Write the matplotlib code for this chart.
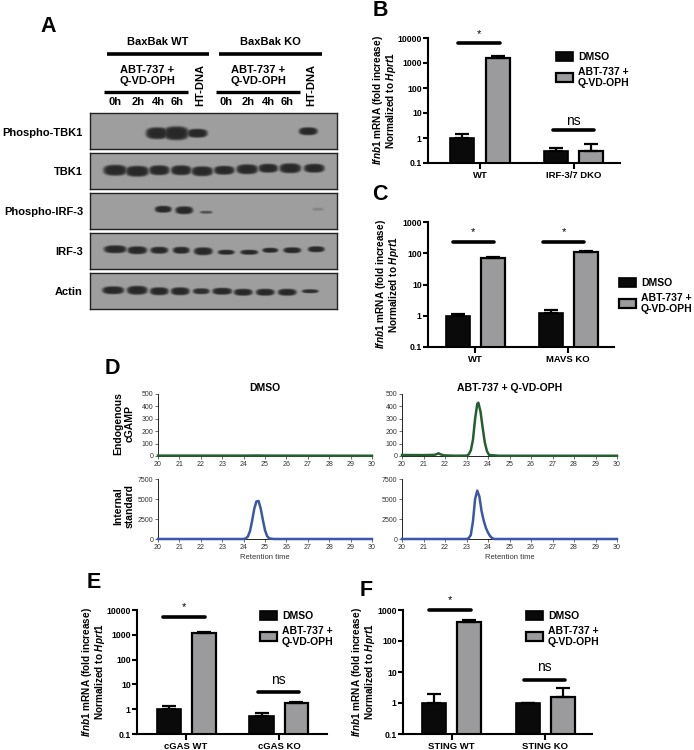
import numpy as np
import matplotlib
matplotlib.use("Agg")
import matplotlib.pyplot as plt
from matplotlib.patches import Patch

plt.rcParams['font.family'] = ['Liberation Sans', 'DejaVu Sans']
plt.rcParams['mathtext.fontset'] = 'custom'
plt.rcParams['mathtext.it'] = 'Liberation Sans:italic:bold'
plt.rcParams['mathtext.rm'] = 'Liberation Sans:bold'

W, H = 694, 750

# western blot (panel A)
blot_names = ["Phospho-TBK1", "TBK1", "Phospho-IRF-3", "IRF-3", "Actin"]
time_labels = ["0h", "2h", "4h", "6h"]
pTBK1_lanes = [157, 176, 197, 308]
pTBK1_strength = [1.0, 1.0, 1.0, 1.0]
pTBK1_width = [23, 26, 21, 19]
pTBK1_height = [12, 14, 9, 8]
pTBK1_row = [133, 133, 133, 131]
TBK1_lanes = [115, 137, 159, 181, 202, 224, 247, 268, 290, 314]
TBK1_strength = [1, 1, 1, 1, 1, 1, 1, 1, 1, 1]
TBK1_width = [24, 24, 21, 21, 22, 21, 22, 20, 22, 21]
TBK1_height = [11, 11, 10, 10, 10, 9, 10, 9, 10, 9]
TBK1_row = [170, 171, 170, 170, 171, 170, 169, 168, 168, 168]
pIRF_lanes = [163, 184, 206, 318]
pIRF_strength = [1.0, 1.0, 0.65, 0.22]
pIRF_width = [17, 18, 13, 12]
pIRF_height = [7, 8, 3, 3]
pIRF_row = [209, 210, 212, 209]
IRF_lanes = [115, 137, 159, 181, 203, 226, 249, 270, 292, 316]
IRF_strength = [1, 1, 1, 1, 1, 1, 1, 1, 1, 1]
IRF_width = [23, 20, 18, 17, 19, 17, 18, 16, 18, 17]
IRF_height = [8, 8, 7, 7, 8, 5, 5, 5, 6, 6]
IRF_row = [249, 250, 250, 250, 251, 252, 252, 250, 250, 249]
actin_lanes = [113, 137, 159, 180, 201, 222, 243, 265, 287, 310]
actin_strength = [1, 1, 1, 1, 0.95, 1, 1, 1, 1, 0.95]
actin_width = [22, 21, 19, 19, 17, 20, 19, 19, 19, 17]
actin_height = [8, 9, 8, 8, 6, 7, 7, 7, 7, 4]
actin_row = [290, 290, 291, 291, 291, 291, 292, 292, 292, 291]

# qPCR bars, upper end of error bar kept as separate lists
b_groups = ["WT", "IRF-3/7 DKO"]
b_dmso = [1.0, 0.3]
b_dmso_top = [1.4, 0.4]
b_abt = [1600, 0.3]
b_abt_top = [1850, 0.55]

c_groups = ["WT", "MAVS KO"]
c_dmso = [1.0, 1.25]
c_dmso_top = [1.1, 1.5]
c_abt = [68, 110]
c_abt_top = [78, 118]

e_groups = ["cGAS WT", "cGAS KO"]
e_dmso = [1.05, 0.55]
e_dmso_top = [1.35, 0.68]
e_abt = [1200, 1.75]
e_abt_top = [1300, 1.95]

f_groups = ["STING WT", "STING KO"]
f_dmso = [1.0, 1.0]
f_dmso_top = [2.0, 1.0]
f_abt = [420, 1.6]
f_abt_top = [490, 3.1]

# chromatograms (panel D)
dmso_cgamp_t = [20, 24, 24.7, 25, 30]
dmso_cgamp_y = [3, 3, 4, 3, 2]
abt_cgamp_t = [20, 21, 21.5, 21.6, 21.7, 21.8, 21.95, 22.5, 23, 23.1, 23.2, 23.3, 23.4, 23.5, 23.55, 23.65, 23.75, 23.85, 23.95, 24.05, 24.5, 30]
abt_cgamp_y = [8, 7, 9, 14, 22, 13, 5, 2, 3, 12, 45, 130, 300, 420, 430, 360, 230, 110, 40, 8, 2, 2]
dmso_std_t = [20, 24, 24.1, 24.2, 24.3, 24.4, 24.5, 24.6, 24.7, 24.8, 24.9, 25, 25.1, 25.2, 25.4, 30]
dmso_std_y = [0, 0, 80, 300, 1000, 2300, 3800, 4700, 4750, 3800, 2400, 1100, 350, 80, 0, 0]
abt_std_t = [20, 23, 23.1, 23.2, 23.3, 23.4, 23.5, 23.6, 23.7, 23.8, 23.9, 24, 24.1, 24.2, 24.3, 30]
abt_std_y = [0, 0, 100, 500, 2200, 5000, 6050, 5300, 3500, 2300, 1400, 800, 350, 100, 0, 0]

GRAY = "#9b9b9d"
GREEN = "#24602f"
BLUE = "#3b57a8"

fig = plt.figure(figsize=(W / 100, H / 100), dpi=100)

# overlay in pixel coordinates for labels of the composite
over = fig.add_axes([0, 0, 1, 1], zorder=5)
over.set_xlim(0, W)
over.set_ylim(H, 0)
over.axis("off")


def px_axes(left, top, right, bottom):
    return fig.add_axes([left / W, 1 - bottom / H, (right - left) / W, (bottom - top) / H])


def label(x, y, s, size=8, ha="center", va="center", **kw):
    kw.setdefault("weight", "bold")
    over.text(x, y, s, fontsize=size, ha=ha, va=va, **kw)


def blot(top, bottom, lanes, strength, widths, heights, rows):
    left, right = 90, 337
    xs = np.arange(left, right, 0.5)
    ys = np.arange(top, bottom, 0.5)
    xx, yy = np.meshgrid(xs, ys)
    dark = np.zeros(xx.shape)
    for c, s, w, h, r in zip(lanes, strength, widths, heights, rows):
        rr = (np.abs(xx - c) / (w / 2)) ** 2.6 + (np.abs(yy - r) / (h / 2)) ** 2.6
        dark = np.maximum(dark, s * np.exp(-rr ** 3))
    img = 0.62 - 0.46 * dark
    ax = px_axes(left, top, right, bottom)
    ax.imshow(img, cmap="gray", vmin=0, vmax=1, aspect="auto", extent=[left, right, bottom, top],
              interpolation="bilinear")
    ax.set_xticks([])
    ax.set_yticks([])
    for s in ax.spines.values():
        s.set_linewidth(1.0)
        s.set_color("#222222")


blot(113, 149, pTBK1_lanes, pTBK1_strength, pTBK1_width, pTBK1_height, pTBK1_row)
blot(153, 189, TBK1_lanes, TBK1_strength, TBK1_width, TBK1_height, TBK1_row)
blot(193, 229, pIRF_lanes, pIRF_strength, pIRF_width, pIRF_height, pIRF_row)
blot(233, 269, IRF_lanes, IRF_strength, IRF_width, IRF_height, IRF_row)
blot(273, 309, actin_lanes, actin_strength, actin_width, actin_height, actin_row)

for name, y in zip(blot_names, [133, 172, 212, 252, 292]):
    label(83, y, name, ha="right")

label(158, 42, "BaxBak WT")
label(270, 42, "BaxBak KO")
over.plot([107, 209], [54, 54], color="k", lw=2.6, solid_capstyle="butt")
over.plot([219, 322], [54, 54], color="k", lw=2.6, solid_capstyle="butt")
label(147, 75.5, "ABT-737 +\nQ-VD-OPH", linespacing=1.15)
label(258, 75.5, "ABT-737 +\nQ-VD-OPH", linespacing=1.15)
over.plot([104, 188], [92, 92], color="k", lw=2.4, solid_capstyle="butt")
over.plot([216, 300], [92, 92], color="k", lw=2.4, solid_capstyle="butt")
for t, x in zip(time_labels, [115, 138, 158, 177]):
    label(x, 102, t)
for t, x in zip(time_labels, [226, 248, 268, 287]):
    label(x, 102, t)
label(200, 85, "HT-DNA", rotation=90)
label(311, 85, "HT-DNA", rotation=90)


def bar_panel(rect, centers, half, dmso, dmso_top, abt, abt_top, groups, ymax, sig, legend_xy, label_gap=30):
    ax = px_axes(*rect)
    spacing = centers[1] - centers[0]
    ax.set_xlim((rect[0] - centers[0]) / spacing, (rect[2] - centers[0]) / spacing)
    x = np.arange(len(groups))
    off = half / spacing
    w = 24 / spacing
    ax.set_yscale("log")
    ax.set_ylim(0.1, ymax)
    err_kw = dict(ecolor="k", elinewidth=1.6, capsize=5, capthick=1.6)
    lo = np.zeros(2)
    ax.bar(x - off, dmso, w, color="#0a0a0a", edgecolor="k", lw=1.2,
           yerr=[lo, np.array(dmso_top) - np.array(dmso)], error_kw=err_kw)
    ax.bar(x + off, abt, w, color=GRAY, edgecolor="k", lw=1.6,
           yerr=[lo, np.array(abt_top) - np.array(abt)], error_kw=err_kw)
    ax.spines[["top", "right"]].set_visible(False)
    ax.spines[["left", "bottom"]].set_linewidth(1.5)
    ax.set_xticks(x)
    ax.set_xticklabels(groups, fontsize=6.8, weight="bold")
    ticks = [10.0 ** i for i in range(-1, int(np.log10(ymax)) + 1)]
    ax.set_yticks(ticks)
    ax.set_yticklabels(["%g" % t for t in ticks], fontsize=6.2, weight="bold")
    ax.minorticks_off()
    ax.tick_params(width=1.5, length=3.5, pad=1)
    ax.tick_params(axis="x", length=4, pad=1.5)
    ax.set_ylabel("$\\mathit{Ifnb1}$ mRNA (fold increase)\nNormalized to $\\mathit{Hprt1}$",
                  fontsize=7.2, weight="bold", linespacing=0.95)
    ax.yaxis.set_label_coords(-label_gap / (rect[2] - rect[0]), 0.5)
    for g, level, mark, mark_y, a, b in sig:
        ax.plot([g - a, g + b], [level, level], color="k", lw=2.6, solid_capstyle="round", clip_on=False)
        ax.text(g - a / 2 + b / 2, mark_y, mark, ha="center", va="center", clip_on=False,
                fontsize=8 if mark == "*" else 10, weight="normal")
    handles = [Patch(facecolor="#0a0a0a", edgecolor="k", lw=1.2),
               Patch(facecolor=GRAY, edgecolor="k", lw=1.6)]
    ax.legend(handles, ["DMSO", "ABT-737 +\nQ-VD-OPH"], loc="upper left", bbox_to_anchor=legend_xy,
              bbox_transform=over.transData, frameon=False, borderaxespad=0, borderpad=0,
              prop=dict(weight="bold", size=7.5), handlelength=1.6, handleheight=0.95,
              handletextpad=0.5, labelspacing=0.45)
    return ax


bar_panel((428, 38, 620, 163), (480, 573.5), 17.75, b_dmso, b_dmso_top, b_abt, b_abt_top, b_groups, 10000,
          [(0, 6300, "*", 15000, 0.23, 0.21), (1, 2.1, "ns", 5, 0.22, 0.22)], (556, 52))
bar_panel((428, 222, 614, 347), (475, 568), 17.5, c_dmso, c_dmso_top, c_abt, c_abt_top, c_groups, 1000,
          [(0, 226, "*", 480, 0.237, 0.204), (1, 226, "*", 480, 0.269, 0.172)], (619, 278), label_gap=27)
bar_panel((137, 610, 327, 734), (186, 279), 17.5, e_dmso, e_dmso_top, e_abt, e_abt_top, e_groups, 10000,
          [(0, 5200, "*", 13000, 0.247, 0.204), (1, 5, "ns", 15, 0.226, 0.215)], (260, 611))
bar_panel((403, 610, 592, 734), (451.5, 545), 17.5, f_dmso, f_dmso_top, f_abt, f_abt_top, f_groups, 1000,
          [(0, 1000, "*", 2100, 0.24, 0.209), (1, 5.5, "ns", 14.5, 0.225, 0.214)], (526, 611), label_gap=26)


def trace(rect, t, y, ymax, yticks, color, title=None, xlabel=None):
    ax = px_axes(*rect)
    ax.plot(t, y, color=color, lw=1.8, clip_on=False, zorder=3)
    ax.set_xlim(20, 30)
    ax.set_ylim(0, ymax)
    ax.set_xticks(range(20, 31))
    ax.set_yticks(yticks)
    ax.spines[["top", "right"]].set_visible(False)
    ax.spines[["left", "bottom"]].set_linewidth(0.6)
    ax.tick_params(labelsize=5, width=0.5, length=2, pad=1.5, colors="#333333")
    if title:
        ax.set_title(title, fontsize=7.5, weight="bold", pad=2)
    if xlabel:
        ax.set_xlabel(xlabel, fontsize=5.5, color="#333333", labelpad=2)


cgamp_ticks = [0, 100, 200, 300, 400, 500]
std_ticks = [0, 2500, 5000, 7500]
trace((158, 394, 372, 456), dmso_cgamp_t, dmso_cgamp_y, 500, cgamp_ticks, GREEN, title="DMSO")
trace((402, 394, 617, 456), abt_cgamp_t, abt_cgamp_y, 500, cgamp_ticks, GREEN, title="ABT-737 + Q-VD-OPH")
trace((158, 479, 372, 539), dmso_std_t, dmso_std_y, 7500, std_ticks, BLUE, xlabel="Retention time")
trace((402, 479, 617, 539), abt_std_t, abt_std_y, 7500, std_ticks, BLUE, xlabel="Retention time")
label(124, 424, "Endogenous\ncGAMP", rotation=90, size=7.5, linespacing=1.1)
label(124, 506, "Internal\nstandard", rotation=90, size=7.5, linespacing=1.1)

# panel letters
for s, x, y in [("A", 48, 27), ("B", 380, 11), ("C", 380, 195), ("D", 112, 368), ("E", 94, 583), ("F", 366, 590)]:
    label(x, y, s, size=15.5)

fig.savefig("out.png", dpi=100)
